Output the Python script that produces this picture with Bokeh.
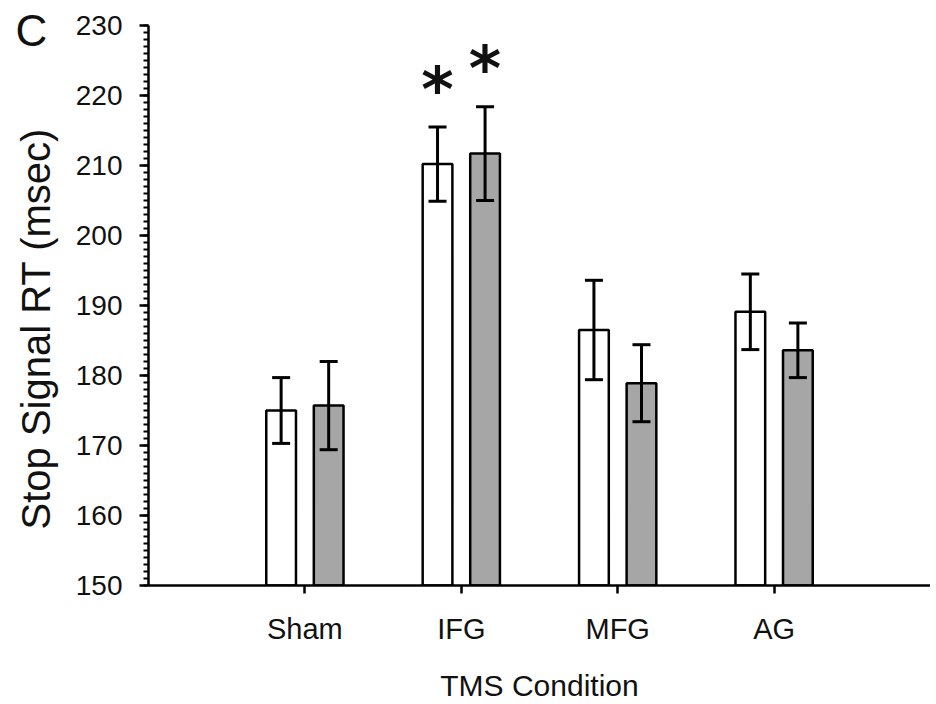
import numpy as np
import pandas as pd
from bokeh.plotting import figure
from bokeh.models import (ColumnDataSource, Range1d, FixedTicker, SingleIntervalTicker,
                          Whisker, TeeHead, Title)
from bokeh.transform import dodge
from bokeh.core.properties import value
from bokeh.embed import file_html
from bokeh.resources import INLINE

# ---- data ----
conditions = ["Sham", "IFG", "MFG", "AG"]
white_mean = [175.0, 210.2, 186.5, 189.1]
white_err = [4.7, 5.3, 7.1, 5.4]
gray_mean = [175.7, 211.7, 178.9, 183.6]
gray_err = [6.3, 6.7, 5.5, 3.9]
white_sig = ["", "*", "", ""]
gray_sig = ["", "*", "", ""]

y_start, y_end = 150, 230
panel_letter = "C"
x_title = "TMS Condition"
y_title = "Stop Signal RT (msec)"

FONT = "Liberation Sans"
TXT = "#111111"
GRAY = "#a6a6a6"
OFF = 0.152
BAR_W = 0.19

pos = np.arange(1, len(conditions) + 1)
df = pd.DataFrame({
    "x": pos,
    "white": white_mean, "gray": gray_mean,
    "white_up": np.array(white_mean) + np.array(white_err),
    "white_lo": np.array(white_mean) - np.array(white_err),
    "gray_up": np.array(gray_mean) + np.array(gray_err),
    "gray_lo": np.array(gray_mean) - np.array(gray_err),
    "white_sig": white_sig, "gray_sig": gray_sig,
})
src = ColumnDataSource(df)

p = figure(width=930, height=704, output_backend="svg", toolbar_location=None,
           x_range=Range1d(0, len(conditions) + 1), y_range=Range1d(y_start, y_end),
           min_border_left=147, min_border_top=25, min_border_right=0,
           min_border_bottom=118)
p.outline_line_color = None
p.xgrid.visible = False
p.ygrid.visible = False
p.background_fill_color = "white"

# panel letter, drawn as a title that hangs down beside the y axis
p.title = Title(text=panel_letter, align="left", vertical_align="bottom",
                offset=-133, standoff=-58, text_font=FONT, text_font_size="44px",
                text_font_style="normal", text_color=TXT)

# bars
p.vbar(x=dodge("x", -OFF), top="white", bottom=y_start, width=BAR_W, source=src,
       fill_color="white", line_color="black", line_width=2.5)
p.vbar(x=dodge("x", OFF), top="gray", bottom=y_start, width=BAR_W, source=src,
       fill_color=GRAY, line_color="black", line_width=2.5)

# error bars (drawn on top of the bars)
for key, off in (("white", -OFF), ("gray", OFF)):
    w = Whisker(source=src, base=dodge("x", off), upper=key + "_up", lower=key + "_lo",
                line_width=3, line_color="black", level="overlay",
                upper_head=TeeHead(size=18, line_width=3, line_color="black"),
                lower_head=TeeHead(size=18, line_width=3, line_color="black"))
    p.add_layout(w)

# significance asterisks
for key, off in (("white", -OFF), ("gray", OFF)):
    p.text(x=dodge("x", off), y=key + "_up", text=key + "_sig", source=src,
           text_font=value("DejaVu Sans"), text_font_style="bold",
           text_font_size="62px", text_align="center", text_baseline="alphabetic",
           y_offset=-38, text_color=TXT)

# axes
xa = p.xaxis[0]
xa.ticker = FixedTicker(ticks=list(pos))
xa.major_label_overrides = {int(i): c for i, c in zip(pos, conditions)}
xa.minor_tick_line_color = None
xa.major_tick_out = 8
xa.major_tick_in = 0
xa.major_tick_line_width = 2.5
xa.axis_line_width = 2.5
xa.major_label_standoff = 19
xa.major_label_text_font = FONT
xa.major_label_text_font_size = "29px"
xa.major_label_text_color = TXT
xa.axis_label = x_title
xa.axis_label_text_font = FONT
xa.axis_label_text_font_size = "30px"
xa.axis_label_text_font_style = "normal"
xa.axis_label_text_color = TXT
xa.axis_label_standoff = 21

ya = p.yaxis[0]
ya.ticker = SingleIntervalTicker(interval=10, num_minor_ticks=10)
ya.major_tick_out = 9
ya.major_tick_in = 0
ya.minor_tick_out = 5
ya.minor_tick_in = 0
ya.major_tick_line_width = 2.5
ya.minor_tick_line_width = 2
ya.axis_line_width = 2.5
ya.major_label_standoff = 17
ya.major_label_text_font = FONT
ya.major_label_text_font_size = "28px"
ya.major_label_text_color = TXT

# y-axis title, placed in the left panel so it can sit lower like the original
p.add_layout(Title(text=y_title, align="left", vertical_align="top", offset=56,
                   standoff=26, text_font=FONT, text_font_size="40px",
                   text_font_style="normal", text_color=TXT), "left")

open("out.html", "w").write(file_html(p, INLINE))
